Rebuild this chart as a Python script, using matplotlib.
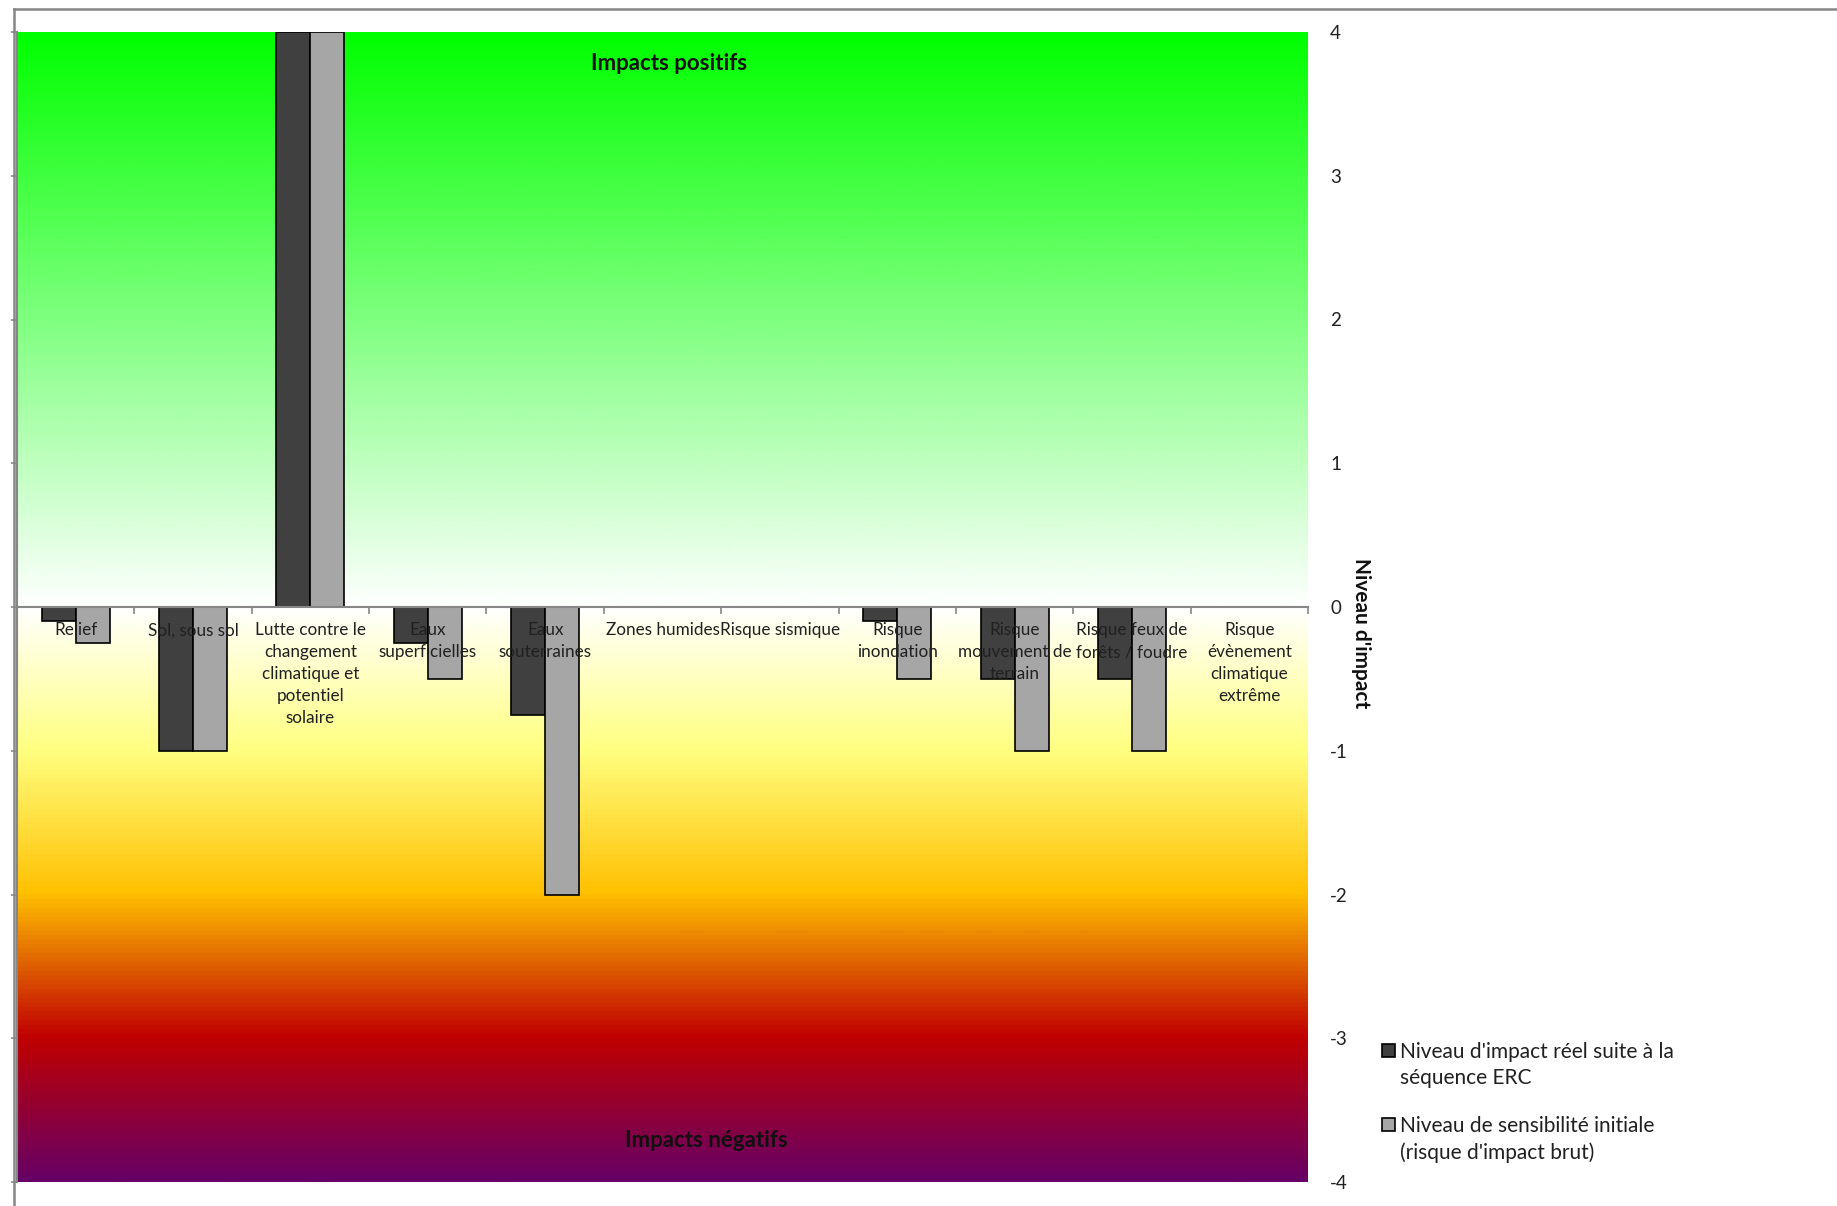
import numpy as np
import matplotlib
matplotlib.use("Agg")
import matplotlib.pyplot as plt
from matplotlib.colors import LinearSegmentedColormap
from matplotlib.lines import Line2D
from matplotlib.patches import Rectangle

plt.rcParams['font.family'] = ['Lato', 'DejaVu Sans']

categories = [
    "Relief",
    "Sol, sous sol",
    "Lutte contre le\nchangement\nclimatique et\npotentiel\nsolaire",
    "Eaux\nsuperficielles",
    "Eaux\nsouterraines",
    "Zones humides",
    "Risque sismique",
    "Risque\ninondation",
    "Risque\nmouvement de\nterrain",
    "Risque feux de\nforêts / foudre",
    "Risque\névènement\nclimatique\nextrême",
]
impact_reel = [-0.1, -1, 4, -0.25, -0.75, 0, 0, -0.1, -0.5, -0.5, 0]
sensibilite_initiale = [-0.25, -1, 4, -0.5, -2, 0, 0, -0.5, -1, -1, 0]
series_labels = ["Niveau d'impact réel suite à la\nséquence ERC",
                 "Niveau de sensibilité initiale\n(risque d'impact brut)"]
series_colors = ['#404040', '#A6A6A6']
y_ticks = [-4, -3, -2, -1, 0, 1, 2, 3, 4]

W, H = 1837, 1206
fig = plt.figure(figsize=(W / 100, H / 100), dpi=100)
ax = fig.add_axes([17 / W, 1 - 1182 / H, (1308 - 17) / W, (1182 - 32) / H])

n = len(categories)
x = np.arange(n)
ax.set_xlim(-0.5, n - 0.5)
ax.set_ylim(-4, 4)

# background gradient
stops = [(-4, '#660066'), (-3, '#C00000'), (-2, '#FFC000'), (-1, '#FFFF80'),
         (0, '#FFFFFF'), (4, '#00FF00')]
cmap = LinearSegmentedColormap.from_list(
    'grad', [((v + 4) / 8, c) for v, c in stops])
grad = np.linspace(-4, 4, 1024).reshape(-1, 1)
ax.imshow(grad, extent=(-0.5, n - 0.5, -4, 4), aspect='auto', origin='lower',
          cmap=cmap, vmin=-4, vmax=4, zorder=-10, interpolation='bilinear')

bw = 0.29
ax.bar(x - bw / 2, impact_reel, width=bw, color=series_colors[0], edgecolor='black',
       linewidth=1.2, zorder=1)
ax.bar(x + bw / 2, sensibilite_initiale, width=bw, color=series_colors[1],
       edgecolor='black', linewidth=1.2, zorder=1)

# x axis at zero
ax.spines['bottom'].set_position(('data', 0))
ax.spines['bottom'].set_color('#868686')
ax.spines['bottom'].set_linewidth(1.5)
ax.spines['top'].set_visible(False)
ax.spines['right'].set_visible(False)
ax.spines['left'].set_color('#868686')
ax.spines['left'].set_linewidth(1.5)
ax.set_xticks(np.arange(-0.5, n, 1.0))
ax.set_xticklabels([])
ax.set_xticks(x, minor=True)
ax.set_xticklabels(categories, minor=True, fontsize=12.3, color='#202020',
                   linespacing=1.45, va='top')
ax.tick_params(axis='x', which='major', direction='out', length=5,
               color='#868686', width=1.2)
ax.tick_params(axis='x', which='minor', length=0, pad=11)

ax.set_yticks(y_ticks)
ax.set_yticklabels([str(v) for v in y_ticks])
ax.tick_params(axis='y', left=True, right=False, labelleft=False, labelright=True,
               direction='out', length=4, color='#868686', width=1.2,
               labelsize=13.5, labelcolor='#202020', pad=12)

ax.text(0.505, 0.973, "Impacts positifs", transform=ax.transAxes, ha='center',
        va='center', fontsize=16, fontweight='bold', color='#101010')
ax.text(0.534, 0.036, "Impacts négatifs", transform=ax.transAxes, ha='center',
        va='center', fontsize=16, fontweight='bold', color='#101010')

fig.text(1361 / W, 1 - 633 / H, "Niveau d'impact", rotation=270, ha='center',
         va='center', fontsize=15, fontweight='bold', color='#101010')

# legend (handles aligned with first line of each label)
leg_top = [1050, 1124]
for lab, col, yc in zip(series_labels, series_colors, leg_top):
    s = 13
    fig.add_artist(Rectangle(((1388 - s / 2) / W, 1 - (yc + s / 2) / H), s / W, s / H,
                             transform=fig.transFigure, facecolor=col,
                             edgecolor='black', lw=1.2))
    fig.text(1400 / W, 1 - (yc - 8) / H, lab, ha='left', va='top', fontsize=15,
             color='#202020', linespacing=1.4)

# chart frame
fig.add_artist(Line2D([14 / W, 1], [1 - 9 / H, 1 - 9 / H], transform=fig.transFigure,
                      color='#868686', lw=1.8))
fig.add_artist(Line2D([14 / W, 14 / W], [0, 1 - 9 / H], transform=fig.transFigure,
                      color='#868686', lw=1.8))

fig.savefig("out.png", dpi=100)
